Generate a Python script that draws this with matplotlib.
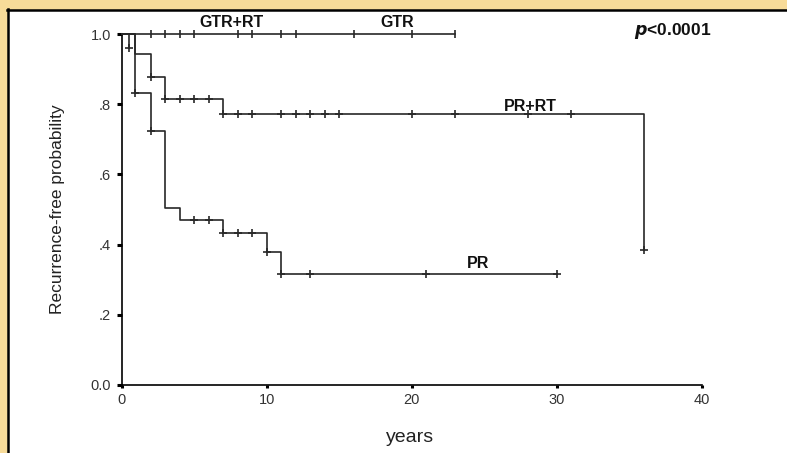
import matplotlib
matplotlib.use("Agg")
import matplotlib.pyplot as plt
from matplotlib.patches import Rectangle
from matplotlib.lines import Line2D
from matplotlib import font_manager

# ---- data ----
gtr_t = [0, 0.5]
gtr_s = [1.0, 0.96]
gtr_cens_t = [0.5]
gtr_cens_s = [0.96]

gtrrt_t = [0, 23]
gtrrt_s = [1.0, 1.0]
gtrrt_cens_t = [2, 3, 4, 5, 8, 9, 11, 12, 16, 20, 23]

prrt_t = [0, 0.9, 2, 3, 7, 36]
prrt_s = [1.0, 0.943, 0.878, 0.815, 0.771, 0.385]
prrt_cens_t = [2, 3, 4, 5, 6, 7, 8, 9, 11, 12, 13, 14, 15, 20, 23, 28, 31, 36]
prrt_cens_s = [0.878, 0.815, 0.815, 0.815, 0.815, 0.771, 0.771, 0.771, 0.771,
               0.771, 0.771, 0.771, 0.771, 0.771, 0.771, 0.771, 0.771, 0.385]

pr_t = [0, 0.9, 2, 3, 4, 7, 10, 11, 30]
pr_s = [1.0, 0.833, 0.725, 0.505, 0.47, 0.432, 0.378, 0.315, 0.315]
pr_cens_t = [0.9, 2, 5, 6, 7, 8, 9, 10, 11, 13, 21, 30]
pr_cens_s = [0.833, 0.725, 0.47, 0.47, 0.432, 0.432, 0.432, 0.378, 0.315, 0.315, 0.315, 0.315]

yticks = [0.0, 0.2, 0.4, 0.6, 0.8, 1.0]
yticklabels = ["0.0", ".2", ".4", ".6", ".8", "1.0"]
xticks = [0, 10, 20, 30, 40]
xticklabels = ["0", "10", "20", "30", "40"]

installed = {f.name for f in font_manager.fontManager.ttflist}
narrow = "Liberation Sans Narrow" if "Liberation Sans Narrow" in installed else "Liberation Sans"
ylab_size = 14.5 if narrow == "Liberation Sans Narrow" else 12.5

W, H = 787, 453
fig = plt.figure(figsize=(W / 100, H / 100), dpi=100)
fig.patch.set_facecolor("#F7DB99")

# white panel with black left/top border
fig.patches.append(Rectangle((8 / W, 0), 1.0, (H - 10) / H, transform=fig.transFigure,
                             facecolor="white", edgecolor="none", zorder=-5))
fig.lines.append(Line2D([8 / W, 8 / W], [0, (H - 9) / H], transform=fig.transFigure,
                        color="black", lw=1.8, zorder=-4))
fig.lines.append(Line2D([7.3 / W, 1.0], [(H - 10) / H, (H - 10) / H], transform=fig.transFigure,
                        color="black", lw=1.8, zorder=-4))

ax = fig.add_axes([121.5 / W, (H - 385) / H, (702 - 121.5) / W, (385 - 34) / H])
ax.set_zorder(5)
ax.patch.set_visible(False)
ax.set_xlim(0, 40)
ax.set_ylim(0, 1)
for s in ["top", "right"]:
    ax.spines[s].set_visible(False)
for s in ["left", "bottom"]:
    ax.spines[s].set_linewidth(1.2)
    ax.spines[s].set_color("black")

lc = "#282828"
lw = 1.2
ms = 6
for t, sv in [(gtr_t, gtr_s), (gtrrt_t, gtrrt_s), (prrt_t, prrt_s), (pr_t, pr_s)]:
    ax.step(t, sv, where="post", color=lc, lw=lw, clip_on=False, zorder=3)

ax.plot(gtr_cens_t, gtr_cens_s, "+", color=lc, ms=ms, mew=lw, clip_on=False, zorder=3)
ax.plot(gtrrt_cens_t, [1.0] * len(gtrrt_cens_t), "|", color=lc, ms=ms, mew=lw, clip_on=False, zorder=3)
ax.plot(prrt_cens_t, prrt_cens_s, "+", color=lc, ms=ms, mew=lw, clip_on=False, zorder=3)
ax.plot(pr_cens_t, pr_cens_s, "+", color=lc, ms=ms, mew=lw, clip_on=False, zorder=3)

ax.set_yticks(yticks)
ax.set_yticklabels(yticklabels)
ax.set_xticks(xticks)
ax.set_xticklabels(xticklabels)
ax.tick_params(axis="y", direction="out", length=3.5, width=2.2, pad=4,
               labelsize=10.5, labelcolor="#333333")
ax.tick_params(axis="x", direction="out", length=2.5, width=2.2, pad=3,
               labelsize=10.5, labelcolor="#333333")
for lab in ax.get_xticklabels() + ax.get_yticklabels():
    lab.set_family("Liberation Sans")

fig.text(58 / W, 1 - 209 / H, "Recurrence-free probability", rotation=90,
         ha="center", va="center", fontsize=ylab_size, family=narrow, color="#222222")
fig.text(410 / W, 1 - 437 / H, "years", ha="center", va="center",
         fontsize=14, family="Liberation Sans", color="#222222")

bold = dict(ha="center", va="center", fontweight="bold", family="Liberation Sans",
            color="#111111")
fig.text(231 / W, 1 - 22.5 / H, "GTR+RT", fontsize=11.5, **bold)
fig.text(397 / W, 1 - 22.5 / H, "GTR", fontsize=11.5, **bold)
fig.text(530 / W, 1 - 106.5 / H, "PR+RT", fontsize=11.5, **bold)
fig.text(478 / W, 1 - 263.5 / H, "PR", fontsize=11.5, **bold)
fig.text(673 / W, 1 - 31 / H, r"$\boldsymbol{p}$<0.0001", fontsize=12.5, **bold)

fig.savefig("out.png", dpi=100, facecolor=fig.get_facecolor())
